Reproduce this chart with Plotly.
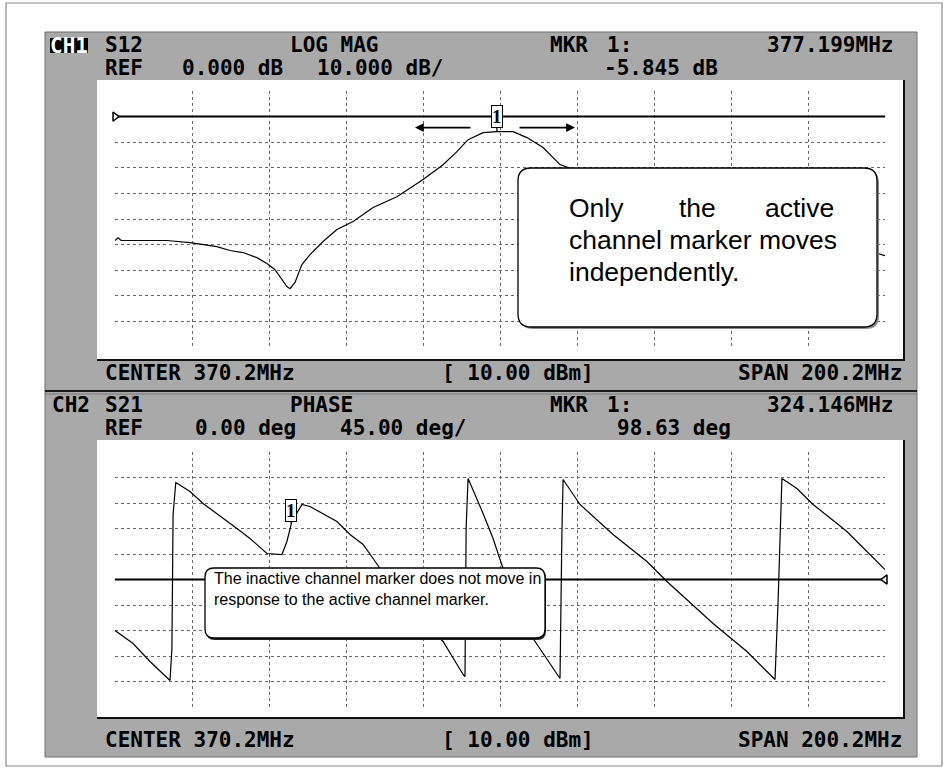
import plotly.graph_objects as go

W, H = 944, 769
def X(px): return px / W
def Y(py): return 1 - py / H

# ---------------- data ----------------
center_mhz = 370.2
span_mhz = 200.2
f_start = center_mhz - span_mhz / 2
f_stop = center_mhz + span_mhz / 2

# CH1  S12 LOG MAG (dB)
ch1_freq_mhz = [270.1, 270.9, 271.7, 283.6, 289.6, 296.6, 300.0, 303.4, 307.0, 309.6,
                311.7, 313.5, 314.8, 315.6, 316.9, 318.7, 320.8, 324.2, 327.8, 332.0,
                337.2, 343.4, 350.2, 355.4, 359.0, 361.9, 365.8, 369.4, 373.6, 377.2,
                381.4, 385.8, 396.2, 409.2, 422.2, 435.2, 448.2, 461.2, 470.3]
ch1_logmag_db = [-48.4, -47.3, -48.4, -48.4, -49.2, -50.8, -52.3, -53.1, -55.1, -57.4,
                 -59.8, -63.7, -66.4, -67.2, -64.8, -57.8, -53.9, -48.8, -44.1, -41.0,
                 -35.5, -31.3, -24.6, -18.8, -13.7, -9.0, -6.25, -5.85, -5.85, -8.2,
                 -12.1, -18.75, -24.6, -32.4, -38.3, -43.4, -47.3, -50.4, -54.3]

# CH2  S21 PHASE (deg)
ch2_freq_mhz = [270.1, 274.8, 279.2, 284.4, 284.9, 285.2, 285.9, 289.6, 293.0, 296.6,
                301.8, 305.2, 309.6, 313.5, 314.8, 316.1, 318.7, 320.8, 324.2, 327.8,
                331.2, 334.6, 337.2, 339.0, 346.8, 355.4, 360.6, 361.1, 361.4, 361.9,
                365.8, 368.4, 371.0, 374.9, 378.8, 385.8, 386.3, 386.6, 391.0, 399.6,
                408.4, 413.6, 425.6, 434.4, 441.7, 442.0, 442.5, 443.5, 447.4, 451.6,
                460.4, 470.3]
ch2_phase_deg = [-90.0, -112.9, -144.7, -178.2, -121.8, 114.7, 171.2, 155.3, 134.1, 116.5,
                 90.0, 72.4, 45.9, 44.1, 67.1, 102.4, 132.4, 128.8, 116.5, 102.4,
                 79.4, 61.8, 37.1, 19.4, -47.6, -109.4, -167.6, -171.2, 91.8, 178.2,
                 116.5, 72.4, 19.4, -38.8, -104.1, -174.7, 84.7, 176.5, 132.4, 79.4,
                 31.8, -3.5, -77.6, -127.1, -176.5, -109.4, -38.8, 178.2, 160.6, 132.4,
                 84.7, 17.6]

ch1_ref_db, ch1_scale_db, ch1_ref_div = 0.0, 10.0, 9
ch2_ref_deg, ch2_scale_deg, ch2_ref_div = 0.0, 45.0, 5
n_div = 10

ch1_marker = (369.4, -5.85)
ch2_marker = (315.9, 98.6)

ch1_header = [("S12", 103), ("LOG MAG", 288), ("MKR", 548), ("1:", 605), ("377.199MHz", 765)]
ch1_header2 = [("REF", 103), ("0.000 dB", 180), ("10.000 dB/", 315), ("-5.845 dB", 602)]
ch2_header = [("CH2", 50), ("S21", 103), ("PHASE", 288), ("MKR", 548), ("1:", 605), ("324.146MHz", 765)]
ch2_header2 = [("REF", 103), ("0.00 deg", 193), ("45.00 deg/", 338), ("98.63 deg", 615)]
footer = [("CENTER 370.2MHz", 103), ("[ 10.00 dBm]", 440), ("SPAN 200.2MHz", 736)]

# ---------------- axes ----------------
y1_lo = ch1_ref_db - ch1_ref_div * ch1_scale_db
y1_hi = y1_lo + n_div * ch1_scale_db
y2_lo = ch2_ref_deg - ch2_ref_div * ch2_scale_deg
y2_hi = y2_lo + n_div * ch2_scale_deg
xticks = [f_start + i * span_mhz / n_div for i in range(n_div + 1)]
y1ticks = [y1_lo + i * ch1_scale_db for i in range(n_div + 1)]
y2ticks = [y2_lo + i * ch2_scale_deg for i in range(n_div)]  # no top line

GRID = dict(showgrid=True, gridcolor="#6a6a6a", gridwidth=1, griddash="dot",
            zeroline=False, showline=False, showticklabels=False, ticks="",
            tickmode="array", fixedrange=True)

fig = go.Figure()

line_style = dict(color="black", width=1.2)
fig.add_trace(go.Scatter(x=ch1_freq_mhz, y=ch1_logmag_db, mode="lines", line=line_style,
                         xaxis="x", yaxis="y", hoverinfo="skip"))
fig.add_trace(go.Scatter(x=[f_start, f_stop], y=[ch1_ref_db, ch1_ref_db], mode="lines",
                         line=dict(color="black", width=2), xaxis="x", yaxis="y", hoverinfo="skip"))
fig.add_trace(go.Scatter(x=[f_start], y=[ch1_ref_db], mode="markers",
                         marker=dict(symbol="triangle-right", size=8, color="white",
                                     line=dict(width=1.5, color="black")),
                         cliponaxis=False, xaxis="x", yaxis="y", hoverinfo="skip"))

fig.add_trace(go.Scatter(x=ch2_freq_mhz, y=ch2_phase_deg, mode="lines", line=line_style,
                         xaxis="x2", yaxis="y2", hoverinfo="skip"))
fig.add_trace(go.Scatter(x=[f_start, f_stop], y=[ch2_ref_deg, ch2_ref_deg], mode="lines",
                         line=dict(color="black", width=2), xaxis="x2", yaxis="y2", hoverinfo="skip"))
fig.add_trace(go.Scatter(x=[f_stop], y=[ch2_ref_deg], mode="markers",
                         marker=dict(symbol="triangle-left", size=8, color="white",
                                     line=dict(width=1.5, color="black")),
                         cliponaxis=False, xaxis="x2", yaxis="y2", hoverinfo="skip"))

# ---------------- shapes ----------------
shapes = []
def rect(x0, y0, x1, y1, fill=None, line=None, lw=0, layer="below"):
    shapes.append(dict(type="rect", xref="paper", yref="paper",
                       x0=X(x0), x1=X(x1), y0=Y(y1), y1=Y(y0),
                       fillcolor=fill if fill else "rgba(0,0,0,0)",
                       line=dict(color=line if line else "rgba(0,0,0,0)", width=lw),
                       layer=layer))
def hline(x0, x1, y, color, w, layer="below"):
    shapes.append(dict(type="line", xref="paper", yref="paper", x0=X(x0), x1=X(x1),
                       y0=Y(y), y1=Y(y), line=dict(color=color, width=w), layer=layer))
def vline(x, y0, y1, color, w, layer="below"):
    shapes.append(dict(type="line", xref="paper", yref="paper", x0=X(x), x1=X(x),
                       y0=Y(y0), y1=Y(y1), line=dict(color=color, width=w), layer=layer))
def rrect_path(x0, y0, x1, y1, r):
    def P(px, py): return f"{X(px):.5f},{Y(py):.5f}"
    return (f"M {P(x0 + r, y0)} L {P(x1 - r, y0)} Q {P(x1, y0)} {P(x1, y0 + r)} "
            f"L {P(x1, y1 - r)} Q {P(x1, y1)} {P(x1 - r, y1)} L {P(x0 + r, y1)} "
            f"Q {P(x0, y1)} {P(x0, y1 - r)} L {P(x0, y0 + r)} Q {P(x0, y0)} {P(x0 + r, y0)} Z")

rect(6, 3, 942, 766, line="#8a8a8a", lw=1.2)
rect(45, 32, 917, 757, fill="#a9a9a9", line="#6e6e6e", lw=1)
hline(45, 917, 391, "#1a1a1a", 2)
hline(45, 917, 394, "#7a7a7a", 1)
rect(97, 80, 904, 360, fill="white")
vline(904, 80, 361, "#111", 2)
hline(97, 905, 360, "#111", 2)
rect(97, 440, 904, 718, fill="white")
vline(904, 440, 719, "#111", 2)
hline(97, 905, 718, "#111", 2)
rect(50, 38, 88, 53, fill="black")

# callouts
shapes.append(dict(type="path", xref="paper", yref="paper", path=rrect_path(520, 170, 879, 329, 13),
                   fillcolor="#8c8c8c", line=dict(width=0), layer="above"))
shapes.append(dict(type="path", xref="paper", yref="paper", path=rrect_path(518, 168, 877, 327, 13),
                   fillcolor="white", line=dict(color="black", width=1.3), layer="above"))
shapes.append(dict(type="path", xref="paper", yref="paper", path=rrect_path(206, 569, 546, 640, 9),
                   fillcolor="#222", line=dict(width=0), layer="above"))
shapes.append(dict(type="path", xref="paper", yref="paper", path=rrect_path(205, 568, 545, 638, 9),
                   fillcolor="white", line=dict(color="black", width=1.3), layer="above"))

# ---------------- annotations ----------------
ann = []
MONO = dict(family="DejaVu Sans Mono", size=21, color="black")
def txt(text, px, py, font=MONO, anchor="left", color=None):
    f = dict(font)
    if color: f["color"] = color
    ann.append(dict(text=f"<b>{text}</b>" if font is MONO else text, x=X(px), y=Y(py),
                    xref="paper", yref="paper", xanchor=anchor, yanchor="middle",
                    showarrow=False, font=f))

txt("CH1", 69, 46, anchor="center", color="white")
for t, px in ch1_header: txt(t, px, 45)
for t, px in ch1_header2: txt(t, px, 68)
for t, px in ch2_header: txt(t, px, 405)
for t, px in ch2_header2: txt(t, px, 428)
for t, px in footer: txt(t, px, 373)
for t, px in footer: txt(t, px, 740)

SANS_BIG = dict(family="Liberation Sans, Arial", size=26.5, color="black")
txt("Only", 567, 208, font=SANS_BIG)
txt("the", 677, 208, font=SANS_BIG)
txt("active", 836, 208, font=SANS_BIG, anchor="right")
txt("channel marker moves", 567, 240, font=SANS_BIG)
txt("independently.", 567, 272, font=SANS_BIG)

SANS_SM = dict(family="Liberation Sans, Arial", size=16, color="black")
txt("The inactive channel marker does not move in", 212, 578, font=SANS_SM)
txt("response to the active channel marker.", 212, 599, font=SANS_SM)

mk_font = dict(family="Liberation Serif", size=19, color="black")
ann.append(dict(x=ch1_marker[0], y=ch1_marker[1], xref="x", yref="y", text="<b>1</b>",
                showarrow=True, arrowhead=0, arrowwidth=1.3, arrowcolor="black", ax=0, ay=-15,
                bordercolor="black", borderwidth=1, borderpad=0, bgcolor="white", font=mk_font))
ann.append(dict(x=ch2_marker[0], y=ch2_marker[1], xref="x2", yref="y2", text="<b>1</b>",
                showarrow=True, arrowhead=0, arrowwidth=1.3, arrowcolor="black", ax=0, ay=-13,
                bordercolor="black", borderwidth=1, borderpad=0, bgcolor="white", font=mk_font))
# movement arrows around active marker
arr_y = -4.3
for tip, tail in [(348.1, 362.9), (389.7, 374.9)]:
    ann.append(dict(x=tip, y=arr_y, ax=tail, ay=arr_y, xref="x", yref="y", axref="x", ayref="y",
                    text="", showarrow=True, arrowhead=2, arrowsize=1.1, arrowwidth=1.6,
                    arrowcolor="black"))

fig.update_layout(
    width=W, height=H, margin=dict(l=0, r=0, t=0, b=0),
    paper_bgcolor="white", plot_bgcolor="rgba(0,0,0,0)", showlegend=False,
    xaxis=dict(domain=[X(115), X(885)], range=[f_start, f_stop], tickvals=xticks, anchor="y", **GRID),
    yaxis=dict(domain=[Y(347), Y(91)], range=[y1_lo, y1_hi], tickvals=y1ticks, anchor="x", **GRID),
    xaxis2=dict(domain=[X(115), X(885)], range=[f_start, f_stop], tickvals=xticks, anchor="y2", **GRID),
    yaxis2=dict(domain=[Y(707), Y(452)], range=[y2_lo, y2_hi], tickvals=y2ticks, anchor="x2", **GRID),
    shapes=shapes, annotations=ann,
)

fig.write_html("out.html", config={"displayModeBar": False},
               post_script="document.body.style.margin='0';document.body.style.overflow='hidden';")
